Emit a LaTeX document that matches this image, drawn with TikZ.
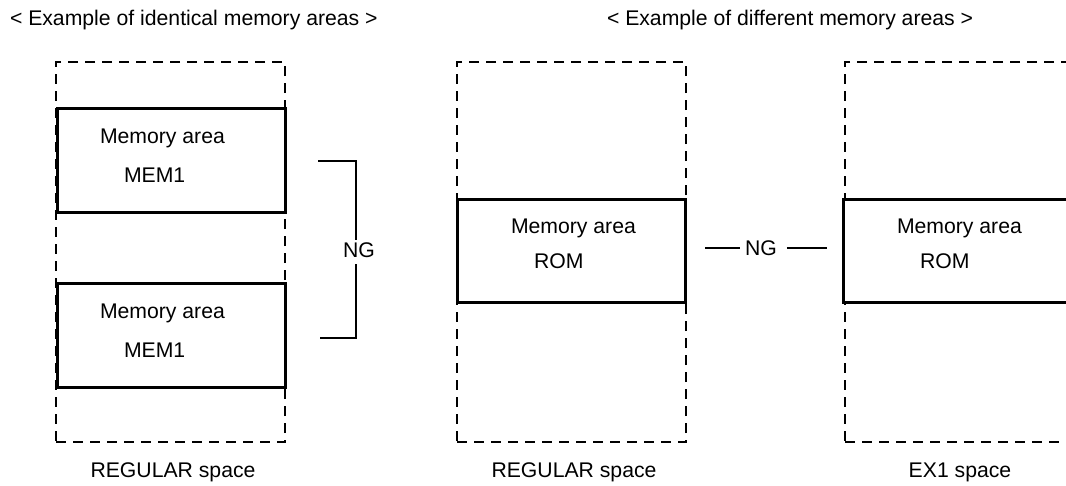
\documentclass[tikz,border=0pt]{standalone}
\usepackage{fontspec}
\setmainfont{Liberation Sans}
\begin{document}
\begin{tikzpicture}[x=1pt,y=-1pt,
  lbl/.style={font=\fontsize{21.2}{24}\selectfont, inner sep=0pt, outer sep=0pt, anchor=base west},
  clbl/.style={lbl, anchor=base},
  spacebox/.style={draw, line width=2.4pt, dash pattern=on 10pt off 7pt, anchor=north west, inner sep=0pt, outer sep=0pt},
  membox/.style={draw, line width=3pt, fill=white, anchor=north west, inner sep=0pt, outer sep=0pt},
  conn/.style={line width=2.6pt}]
\useasboundingbox (0,0) rectangle (1066,485);
\clip (0,0) rectangle (1066,485);
% titles
\node[lbl] (t1) at (10,25) {< Example of identical memory areas >};
\node[lbl] (t2) at (607,25) {< Example of different memory areas >};
% space boxes
\node[spacebox, minimum width=229pt, minimum height=380pt] (s1) at (56,62) {};
\node[spacebox, minimum width=229pt, minimum height=380pt] (s2) at (457,62) {};
\node[spacebox, minimum width=229pt, minimum height=380pt] (s3) at (845,62) {};
% memory boxes
\node[membox, minimum width=228pt, minimum height=104pt] (m1) at (57,108) {};
\node[membox, minimum width=228pt, minimum height=104pt] (m2) at (57,283) {};
\node[membox, minimum width=228pt, minimum height=103pt] (m3) at (457,199) {};
\node[membox, minimum width=240pt, minimum height=103pt] (m4) at (843,199) {};
% box texts
\node[lbl] (m1a) at (100,143) {Memory area};
\node[lbl] (m1b) at (124,182) {MEM1};
\node[lbl] (m2a) at (100,318) {Memory area};
\node[lbl] (m2b) at (124,357) {MEM1};
\node[lbl] (m3a) at (511,233) {Memory area};
\node[lbl] (m3b) at (534,268) {ROM};
\node[lbl] (m4a) at (897,233) {Memory area};
\node[lbl] (m4b) at (920,268) {ROM};
% space labels
\node[clbl] (l1) at (173,477) {REGULAR space};
\node[clbl] (l2) at (574,477) {REGULAR space};
\node[clbl] (l3) at (960,477) {EX1 space};
% NG bracket (left)
\node[lbl] (ng1) at (343,257) {NG};
\coordinate (b1) at (318,161);
\coordinate (b2) at (320,338);
\draw[conn] (b1) -- (356,161) -- (356,240);
\draw[conn] (356,264) -- (356,338) -- (b2);
% NG (right)
\node[lbl] (ng2) at (745,255) {NG};
\coordinate (c1) at (705,248);
\coordinate (c2) at (827,248);
\draw[conn] (c1) -- ([xshift=-5pt]ng2.west |- c1);
\draw[conn] ([xshift=10pt]ng2.east |- c2) -- (c2);
\end{tikzpicture}
\end{document}
